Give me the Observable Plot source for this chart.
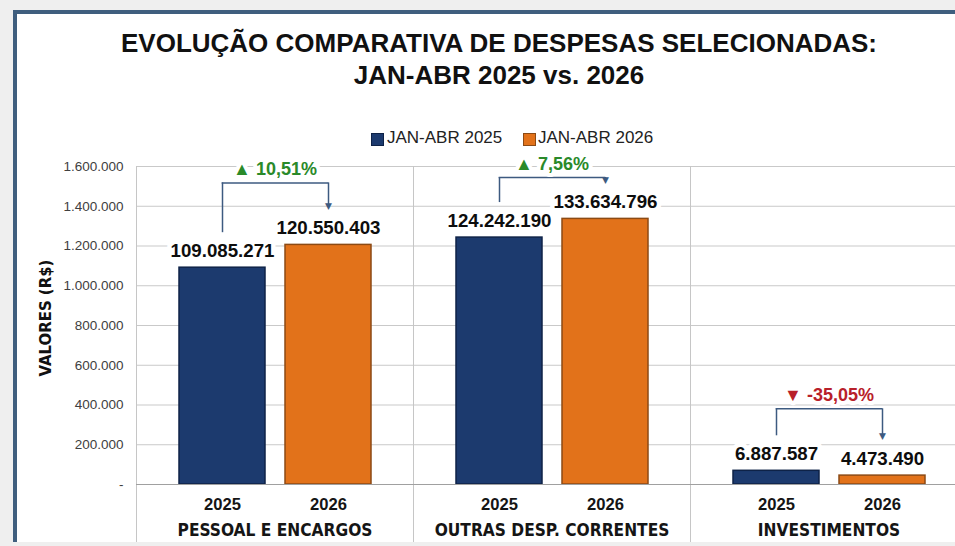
<!DOCTYPE html>
<html><head><meta charset="utf-8">
<script src="https://cdn.jsdelivr.net/npm/d3@7"></script>
<script src="https://cdn.jsdelivr.net/npm/@observablehq/plot@0.6"></script>
<style>
html,body{margin:0;padding:0;width:955px;height:546px;overflow:hidden;background:#efefef;}
#panel{position:absolute;left:13px;top:10px;width:1000px;height:532px;background:#fff;border-top:4px solid #3f5e7e;border-left:4px solid #3f5e7e;box-sizing:border-box;}
#title{position:absolute;left:13px;width:972px;top:27px;text-align:center;font:bold 26px/32px 'Liberation Sans',Arial,sans-serif;color:#111;}
.leg{position:absolute;top:129px;font:17px/18px 'Liberation Sans',Arial,sans-serif;color:#222;white-space:nowrap;}
.sw{position:absolute;top:133px;width:11px;height:11px;}
#ylab{position:absolute;left:45px;top:318px;transform:translate(-50%,-50%) rotate(-90deg);font:bold 16.6px 'DejaVu Sans Condensed','DejaVu Sans',sans-serif;color:#111;white-space:nowrap;}
#chart{position:absolute;left:0;top:150px;}
</style></head>
<body>
<div id="panel"></div>
<div id="title">EVOLUÇÃO COMPARATIVA DE DESPESAS SELECIONADAS:<br>JAN-ABR 2025 vs. 2026</div>
<div id="legend"></div>
<div id="ylab">VALORES (R$)</div>
<div id="chart"></div>
<script>
// ---- data ----
const categories = ["PESSOAL E ENCARGOS", "OUTRAS DESP. CORRENTES", "INVESTIMENTOS"];
const years = ["2025", "2026"];
const seriesNames = ["JAN-ABR 2025", "JAN-ABR 2026"];
const values2025 = [109085271, 124242190, 6887587];
const values2026 = [120550403, 133634796, 4473490];
const yTicks = [0, 20000000, 40000000, 60000000, 80000000, 100000000, 120000000, 140000000, 160000000];
const yTickLabels = ["-", "200.000", "400.000", "600.000", "800.000", "1.000.000", "1.200.000", "1.400.000", "1.600.000"];

// ---- styles ----
const navy = "#1c3a6e", navyEdge = "#0e2247";
const orange = "#e2721a", orangeEdge = "#8c4a14";
const green = "#2a8a2a", red = "#b8202a", bracketColor = "#3d5a80";
const sans = "'Liberation Sans', Arial, 'DejaVu Sans', sans-serif";
const cond = "'DejaVu Sans Condensed', 'DejaVu Sans', sans-serif";

// legend
const legend = document.getElementById("legend");
[[navy, navyEdge, 371, 387], [orange, orangeEdge, 523, 538]].forEach(([c, e, sx, tx], i) => {
  const sw = document.createElement("div");
  sw.className = "sw"; sw.style.left = sx + "px"; sw.style.background = c; sw.style.border = "1px solid " + e;
  legend.appendChild(sw);
  const t = document.createElement("div");
  t.className = "leg"; t.style.left = tx + "px"; t.textContent = seriesNames[i];
  legend.appendChild(t);
});

const loc = d3.formatLocale({decimal: ",", thousands: ".", grouping: [3], currency: ["R$ ", ""], minus: "-"});
const fmtInt = loc.format(",d");
const fmtPct = loc.format(".2f");

const rows = categories.flatMap((c, i) => [
  {cat: c, year: years[0], value: values2025[i]},
  {cat: c, year: years[1], value: values2026[i]}
]);

const W = 970, H = 396, mLeft = 135, mRight = 2, mTop = 16, mBottom = 62;
const padIn = 0.19, padOut = 0.39;
const facetW = (W - mLeft - mRight) / categories.length;
const bandW = facetW / (years.length - padIn + 2 * padOut) * (1 - padIn);
const yMax = yTicks[yTicks.length - 1];
const perPx = yMax / (H - mBottom - mTop);
const brackets = categories.map((c, i) => {
  const v1 = values2025[i], v2 = values2026[i];
  const top = Math.max(v1, v2);
  const pct = (v2 / v1 - 1) * 100;
  const level = Math.min(top + 62 * perPx, yMax - 11 * perPx);
  return {cat: c, v1, v2, level, pct, label: (pct >= 0 ? "▲ " : "▼ ") + fmtPct(pct) + "%"};
});

const plot = Plot.plot({
  width: W, height: H,
  marginLeft: mLeft, marginRight: mRight, marginTop: mTop, marginBottom: mBottom,
  style: {background: "transparent", maxWidth: "none", overflow: "visible"},
  fx: {domain: categories, padding: 0, label: null},
  x: {domain: years, paddingInner: padIn, paddingOuter: padOut, label: null},
  y: {domain: [0, yMax], label: null},
  marks: [
    Plot.gridY(yTicks, {stroke: "#c9c9c9", strokeOpacity: 1}),
    Plot.frame({anchor: "left", stroke: "#c6c6c6", strokeOpacity: 1, insetBottom: -57}),
    Plot.barY(rows.filter(d => d.year === years[0]), {fx: "cat", x: "year", y: "value", fill: navy, stroke: navyEdge, strokeWidth: 1.5}),
    Plot.barY(rows.filter(d => d.year === years[1]), {fx: "cat", x: "year", y: "value", fill: orange, stroke: orangeEdge, strokeWidth: 1.5}),
    Plot.ruleY([0], {stroke: "#a0a0a0", strokeWidth: 1.2}),
    Plot.axisY({ticks: yTicks, tickFormat: d => yTickLabels[yTicks.indexOf(d)], tickSize: 0, tickPadding: 13, fontSize: 13.5, fontFamily: sans, color: "#404040", label: null}),
    Plot.axisX({tickSize: 0, tickPadding: 14, fontSize: 16.6, fontWeight: "bold", fontFamily: sans, color: "#151515", label: null}),
    Plot.axisFx({anchor: "bottom", tickSize: 0, tickPadding: 39, fontSize: 17.2, fontWeight: "bold", fontFamily: cond, color: "#151515", label: null}),
    // brackets
    Plot.ruleX(brackets, {fx: "cat", x: () => years[0], y1: "level", y2: "v1", insetBottom: 35, stroke: bracketColor, strokeWidth: 1.5}),
    Plot.ruleX(brackets, {fx: "cat", x: () => years[1], y1: "level", y2: "v2", insetBottom: 40, stroke: bracketColor, strokeWidth: 1.5}),
    Plot.ruleY(brackets, {fx: "cat", y: "level", x1: () => years[0], x2: () => years[1], insetLeft: bandW / 2 - 0.75, insetRight: bandW / 2 - 0.75, stroke: bracketColor, strokeWidth: 1.5}),
    Plot.text(brackets, {fx: "cat", x: () => years[1], y: "v2", text: () => "▼", dy: -39, fontSize: 9, fill: bracketColor, fontFamily: "'DejaVu Sans', sans-serif"}),
    Plot.text(brackets.filter(d => d.pct >= 0), {fx: "cat", y: "level", text: "label", dy: -13.5, fontSize: 18, fontWeight: "bold", fontFamily: sans, fill: green, stroke: "white", strokeWidth: 8, paintOrder: "stroke"}),
    Plot.text(brackets.filter(d => d.pct < 0), {fx: "cat", y: "level", text: "label", dy: -13.5, fontSize: 18, fontWeight: "bold", fontFamily: sans, fill: red, stroke: "white", strokeWidth: 8, paintOrder: "stroke"}),
    // value labels
    Plot.text(rows, {fx: "cat", x: "year", y: "value", text: d => fmtInt(d.value), dy: -17, fontSize: 18.7, fontWeight: "bold", fontFamily: sans, fill: "#0d0d0d", stroke: "white", strokeWidth: 9, paintOrder: "stroke"})
  ]
});
document.getElementById("chart").appendChild(plot);
</script>
</body></html>
